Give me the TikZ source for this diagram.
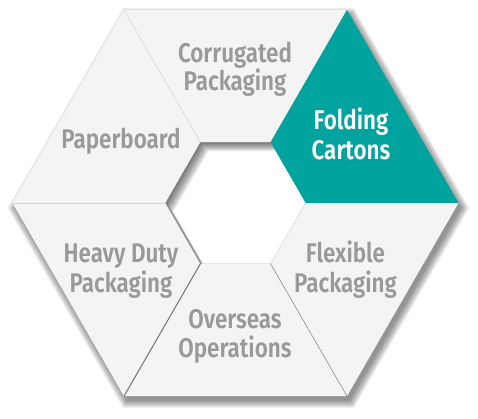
\documentclass[tikz,border=0pt]{standalone}
\usepackage{fontspec}
\setmainfont{Fira Sans}[FakeStretch=0.83, UprightFont={* SemiBold}]
\definecolor{segfill}{HTML}{F4F4F4}
\definecolor{tealc}{HTML}{00A39D}
\definecolor{txtgray}{HTML}{999999}
\definecolor{divlight}{HTML}{D6D6D6}
\begin{document}
\begin{tikzpicture}[x=1pt,y=1pt,
  lbl/.style={font=\fontsize{27}{27}\selectfont, text=txtgray, inner sep=0pt, anchor=base},
  lblw/.style={lbl, text=white},
  seg/.style={fill=segfill},
  segon/.style={fill=tealc}]
\useasboundingbox (-235.5,-215) rectangle (242.5,203);
\fill[white] (-235.5,-215) rectangle (242.5,203);
% outer drop shadow
\foreach \k in {0,...,9}{
  \pgfmathsetmacro\rr{231-\k}
  \begin{scope}[shift={(3,-5)}]
    \fill[black,opacity=0.05] (0:\rr) -- (60:\rr) -- (120:\rr) -- (180:\rr) -- (240:\rr) -- (300:\rr) -- cycle;
  \end{scope}
}
% segments
\foreach \a in {60,120,180,240,300}{
  \fill[seg] (\a:223) -- (\a+60:223) -- (\a+60:70) -- (\a:70) -- cycle;
}
\fill[segon] (0:223) -- (60:223) -- (60:70) -- (0:70) -- cycle;
% hole
\fill[white] (0:70) -- (60:70) -- (120:70) -- (180:70) -- (240:70) -- (300:70) -- cycle;
\begin{scope}
  \clip (0:70) -- (60:70) -- (120:70) -- (180:70) -- (240:70) -- (300:70) -- cycle;
  \foreach \k in {1,...,10}{
    \begin{scope}[shift={(\k*0.8,-\k*0.9)}]
      \fill[black,opacity=0.065,even odd rule] (-300,-300) rectangle (300,300)
        (0:70) -- (60:70) -- (120:70) -- (180:70) -- (240:70) -- (300:70) -- cycle;
    \end{scope}
  }
\end{scope}
\draw[divlight,line width=0.4pt] (-60:70) -- (0:70);
% dividers
\draw[divlight,line width=0.5pt] (120:70) -- (120:223);
\draw[divlight,line width=0.5pt] (180:70) -- (180:223);
\draw[black!55,line width=1pt] (240:70) -- (240:223);
\draw[black!50,line width=0.5pt] (300:70) -- (300:223);
% labels
\node[lbl] (corr1) at (-0.5,141) {Corrugated};
\node[lbl] (corr2) at (-0.5,113) {Packaging};
\node[lblw] (fold1) at (115.5,74) {Folding};
\node[lblw] (fold2) at (115.5,44) {Cartons};
\node[lbl] (paper) at (-114.5,55) {Paperboard};
\node[lbl] (heavy1) at (-114.5,-59) {Heavy Duty};
\node[lbl] (heavy2) at (-114.5,-89) {Packaging};
\node[lbl] (flex1) at (110,-59) {Flexible};
\node[lbl] (flex2) at (110,-89) {Packaging};
\node[lbl] (over1) at (-0.5,-125) {Overseas};
\node[lbl] (over2) at (-0.5,-154) {Operations};
\end{tikzpicture}
\end{document}
